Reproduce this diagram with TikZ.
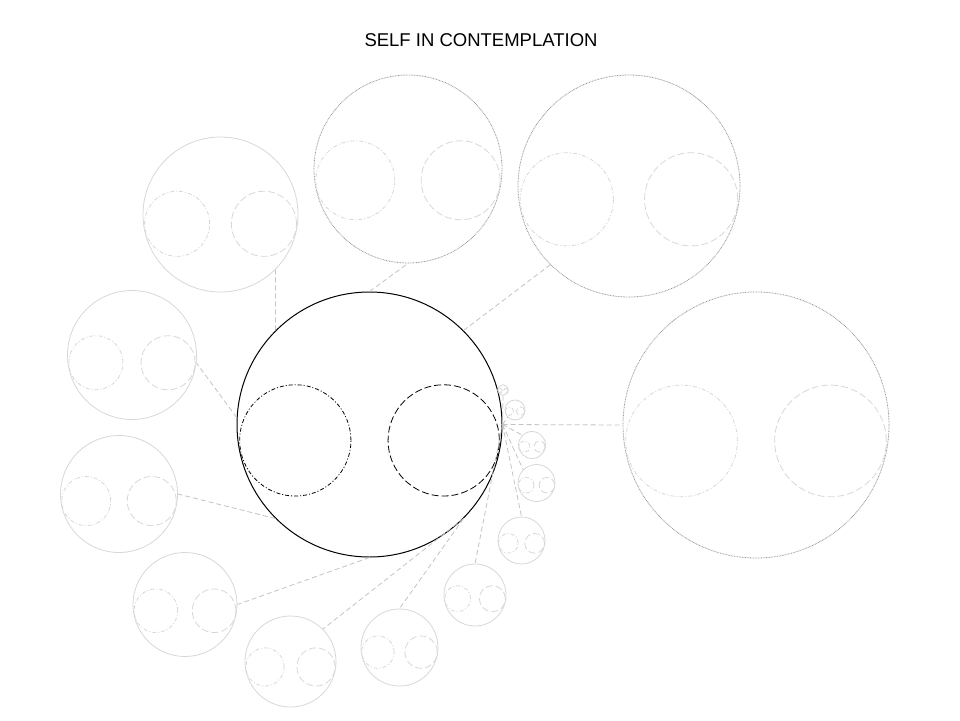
\documentclass[tikz,border=0pt]{standalone}
\usepackage{fontspec}
\setmainfont{Liberation Sans}
\usepackage{xcolor}
\definecolor{Black}{RGB}{0,0,0}
\definecolor{Grey}{RGB}{150,150,150}
\definecolor{LightGrey}{RGB}{195,195,195}
\definecolor{PaleGrey}{RGB}{215,215,215}
\usepackage{tikz}

\tikzset{
	selfring/.style={circle, draw=Black, line width=1pt, inner sep=0pt},
	mirrorring/.style={circle, draw=PaleGrey, line width=0.8pt, inner sep=0pt},
	farring/.style={circle, draw=Grey, line width=0.8pt, dash pattern=on 0.8pt off 0.8pt, inner sep=0pt},
	leftdash/.style={line width=0.8pt, dash pattern=on 4pt off 2pt on 1pt off 2pt},
	rightdash/.style={line width=0.8pt, dash pattern=on 7pt off 3pt},
	thread/.style={draw=LightGrey, line width=0.8pt, dash pattern=on 5pt off 3pt}
}

% one self: outer ring and two inner rings
\newcommand{\selfcircle}[6]{%
	\node[#5, minimum size={2*#4pt}] (#1) at (#2,#3) {};
	\draw[leftdash, draw=#6] (#2-0.56*#4, #3+0.12*#4) circle[radius={0.42*#4pt}];
	\draw[rightdash, draw=#6] (#2+0.56*#4, #3+0.12*#4) circle[radius={0.42*#4pt}];
}

\begin{document}
\begin{tikzpicture}[x=1pt, y=-1pt]
		\useasboundingbox (0,0) rectangle (960,720);
		
		% Title
		\node[font=\fontsize{18.5}{22}\selectfont] (title) at (481,40.5) {SELF IN CONTEMPLATION};
		
		% Circles
		\selfcircle{self}{369.5}{424.5}{132.5}{selfring}{Black}
		\selfcircle{mirror1}{756}{425}{133}{farring}{PaleGrey}
		\selfcircle{mirror2}{629}{186}{111}{farring}{PaleGrey}
		\selfcircle{mirror3}{408}{169}{94}{farring}{PaleGrey}
		\selfcircle{mirror4}{220.5}{214.5}{77.5}{mirrorring}{PaleGrey}
		\selfcircle{mirror5}{132}{355}{64.5}{mirrorring}{PaleGrey}
		\selfcircle{mirror6}{119}{494}{58.5}{mirrorring}{PaleGrey}
		\selfcircle{mirror7}{185}{604.5}{52}{mirrorring}{PaleGrey}
		\selfcircle{mirror8}{290.5}{661.5}{45.5}{mirrorring}{PaleGrey}
		\selfcircle{mirror9}{399.5}{647.5}{38.5}{mirrorring}{PaleGrey}
		\selfcircle{mirror10}{475}{595}{31}{mirrorring}{PaleGrey}
		\selfcircle{mirror11}{521.5}{540.5}{23.5}{mirrorring}{PaleGrey}
		\selfcircle{mirror12}{536.5}{483}{18.5}{mirrorring}{PaleGrey}
		\selfcircle{mirror13}{532}{445}{13.5}{mirrorring}{PaleGrey}
		\selfcircle{mirror14}{515}{410}{10}{mirrorring}{PaleGrey}
		\selfcircle{mirror15}{503}{390}{5.3}{mirrorring}{PaleGrey}
		
		% Lines
		\draw[thread] (self.east) -- (mirror1.west);
		\draw[thread] (self.north east) -- (mirror2.south west);
		\draw[thread] (self.north) -- (mirror3.south);
		\draw[thread] (self.north west) -- (mirror4.south east);
		\draw[thread] (self.177) -- (mirror5.-7);
		\draw[thread] (self.south west) -- (mirror6.east);
		\draw[thread] (self.south) -- (mirror7.east);
		\draw[thread] (self.south east) -- (mirror8.north east);
		\draw[thread] (self.south east) -- (mirror9.north);
		\draw[thread] (self.east) -- (mirror10.north);
		\draw[thread] (self.east) -- (mirror11.north);
		\draw[thread] (self.east) -- (mirror12.north west);
		\draw[thread] (self.east) -- (mirror13.north west);
		\draw[thread] (self.east) -- (mirror14.south west);
		\draw[thread] (self.east) -- (mirror15.south);
		
	\end{tikzpicture}
\end{document}
